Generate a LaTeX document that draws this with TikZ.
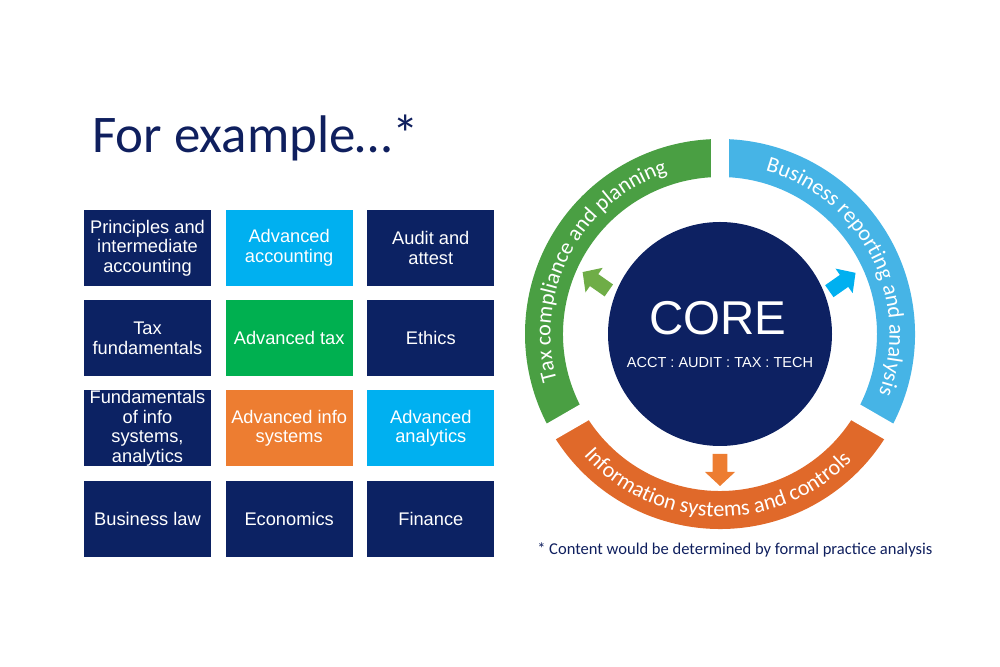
\documentclass[tikz,border=0pt]{standalone}
\usepackage{fontspec}
\usetikzlibrary{positioning, calc, decorations.text}
\newfontfamily\arialfont{Liberation Sans}
\newfontfamily\calfont{Carlito}
\definecolor{boxnavy}{HTML}{0C2263}
\definecolor{corenavy}{HTML}{0D2162}
\definecolor{titlenavy}{HTML}{0F1F5E}
\definecolor{boxblue}{HTML}{00B0F0}
\definecolor{boxgreen}{HTML}{00B050}
\definecolor{boxorange}{HTML}{ED7D31}
\definecolor{ringgreen}{HTML}{4A9F43}
\definecolor{ringblue}{HTML}{46B4E6}
\definecolor{ringorange}{HTML}{E0692A}
\definecolor{arrowgreen}{HTML}{6FAD47}
\newcommand{\ringfont}{\calfont\fontsize{16.6pt}{19pt}\selectfont}
\tikzstyle{course} = [rectangle, minimum width=95.25pt, minimum height=57pt, inner sep=0pt, align=center, text=white, font=\arialfont\fontsize{13.7pt}{14.6pt}\selectfont, fill=boxnavy]
\tikzstyle{ringtext} = [decorate, decoration={text along path, text align=center, text color=white}]
\tikzstyle{gap} = [white, line width=13.5pt]

\begin{document}
\begin{tikzpicture}[x=0.75pt, y=0.75pt, node distance=67.65pt]
\useasboundingbox (0,0) rectangle (1000,667);

% Title
\node (title) [anchor=base west, inner sep=0pt, text=titlenavy, font=\calfont\fontsize{39.7pt}{44pt}\selectfont] at (92,514) {For example…*};

% Course grid
\node (principles) [course] at (147.5,419) {Principles and\\intermediate\\accounting};
\node (advacct) [course, right of=principles, xshift=38.6pt, fill=boxblue] {Advanced\\accounting};
\node (audit) [course, right of=advacct, xshift=38.6pt] {Audit and\\attest};
\node (taxfund) [course, below of=principles] {Tax\\fundamentals};
\node (advtax) [course, right of=taxfund, xshift=38.6pt, fill=boxgreen] {Advanced tax};
\node (ethics) [course, right of=advtax, xshift=38.6pt] {Ethics};
\node (infofund) [course, below of=taxfund] {Fundamentals\\of info\\systems,\\analytics};
\node (advinfo) [course, right of=infofund, xshift=38.6pt, fill=boxorange] {Advanced info\\systems};
\node (advanalytics) [course, right of=advinfo, xshift=38.6pt, fill=boxblue] {Advanced\\analytics};
\node (buslaw) [course, below of=infofund] {Business law};
\node (economics) [course, right of=buslaw, xshift=38.6pt] {Economics};
\node (finance) [course, right of=economics, xshift=38.6pt] {Finance};

% Ring
\coordinate (hub) at (720,333);
\fill[ringgreen] (hub) ++(90:195) arc (90:210:195) -- ++(30:38) arc (210:90:157) -- cycle;
\fill[ringorange] (hub) ++(210:195) arc (210:330:195) -- ++(150:38) arc (330:210:157) -- cycle;
\fill[ringblue] (hub) ++(330:195) arc (330:450:195) -- ++(270:38) arc (450:330:157) -- cycle;
\draw[gap] (hub) ++(90:148) -- ++(90:54);
\draw[gap] (hub) ++(210:148) -- ++(210:54);
\draw[gap] (hub) ++(330:148) -- ++(330:54);

% Ring labels
\path[ringtext, decoration={text={|\ringfont|Tax compliance and planning}}] (hub) ++(212:169.5) arc (212:92:169.5);
\path[ringtext, decoration={text={|\ringfont|Business reporting and analysis}}] (hub) ++(87:169.5) arc (87:-33:169.5);
\path[ringtext, decoration={text={|\ringfont|Information systems and controls}}] (hub) ++(209:182.5) arc (209:329:182.5);

% Core
\node (core) [circle, fill=corenavy, minimum size=168pt, inner sep=0pt] at (hub) {};
\node (coretitle) [inner sep=0pt, text=white, font=\arialfont\fontsize{35.6pt}{40pt}\selectfont] at (718,349) {CORE};
\node (corelist) [inner sep=0pt, text=white, font=\arialfont\fontsize{10.9pt}{13pt}\selectfont] at (720,304.5) {ACCT : AUDIT : TAX : TECH};

% Arrows out of the core
\fill[arrowgreen, shift={($(hub)+(157:135)$)}, rotate=145] (-16,-7.3) -- (2,-7.3) -- (2,-15) -- (16,0) -- (2,15) -- (2,7.3) -- (-16,7.3) -- cycle;
\fill[boxblue, shift={($(hub)+(23:133)$)}, rotate=35] (-16,-7.3) -- (2,-7.3) -- (2,-15) -- (16,0) -- (2,15) -- (2,7.3) -- (-16,7.3) -- cycle;
\fill[boxorange, shift={($(hub)+(270:136)$)}, rotate=-90] (-16,-7.3) -- (2,-7.3) -- (2,-15) -- (16,0) -- (2,15) -- (2,7.3) -- (-16,7.3) -- cycle;

% Footnote
\node (footnote) [anchor=base west, inner sep=0pt, text=titlenavy, font=\calfont\fontsize{12.4pt}{15pt}\selectfont] at (537,112) {* Content would be determined by formal practice analysis};

\end{tikzpicture}
\end{document}
